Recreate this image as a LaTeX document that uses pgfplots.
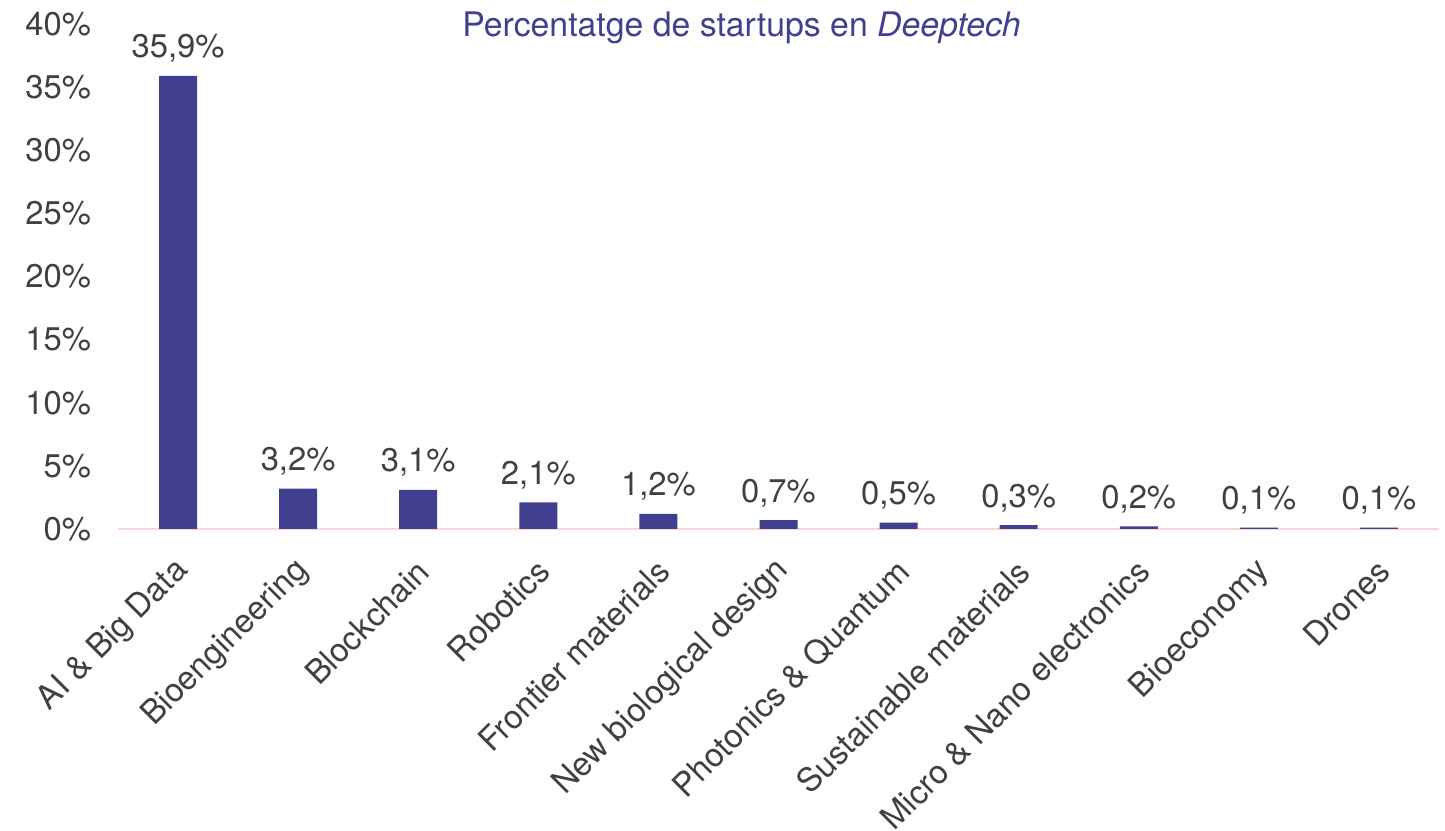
\documentclass[border=0pt]{standalone}
\usepackage{fontspec}
\setmainfont{TeX Gyre Heros}
\usepackage{pgfplots}
\pgfplotsset{compat=1.18}
\definecolor{barc}{HTML}{413F8F}
\definecolor{txt}{HTML}{404040}
\definecolor{axc}{HTML}{F7D5D8}
\begin{document}
\begin{tikzpicture}
\begin{axis}[
  scale only axis, width=660.5pt, height=252.5pt,
  xmin=-0.5, xmax=10.5, ymin=0, ymax=40,
  ytick={0,5,...,40},
  yticklabel={\pgfmathprintnumber{\tick}\%},
  xtick={0,...,10},
  xticklabels={AI \& Big Data, Bioengineering, Blockchain, Robotics, Frontier materials, New biological design, Photonics \& Quantum, Sustainable materials, Micro \& Nano electronics, Bioeconomy, Drones},
  axis x line*=bottom, axis y line*=left,
  y axis line style={draw=none},
  x axis line style={axc, line width=1pt},
  major tick length=0pt,
  tick label style={font=\fontsize{16.4}{19}\selectfont, text=txt},
  yticklabel style={xshift=-10pt},
  xticklabel style={xshift=5pt, yshift=-16pt, rotate=45, anchor=east},
  /pgf/number format/assume math mode=true,
  ybar, bar width=19pt,
  nodes near coords, point meta=explicit symbolic,
  nodes near coords style={font=\fontsize{16.4}{19}\selectfont, text=txt, yshift=3pt},
  clip=false,
]
\addplot[fill=barc, draw=none] coordinates {
 (0,35.9) [35,9\%]
 (1,3.2) [3,2\%]
 (2,3.1) [3,1\%]
 (3,2.1) [2,1\%]
 (4,1.2) [1,2\%]
 (5,0.7) [0,7\%]
 (6,0.5) [0,5\%]
 (7,0.3) [0,3\%]
 (8,0.2) [0,2\%]
 (9,0.1) [0,1\%]
 (10,0.1) [0,1\%]
};
\node[font=\fontsize{16.9}{19}\selectfont, text=barc] at (rel axis cs:0.472,0.992) {Percentatge de startups en \textit{Deeptech}};
\end{axis}
\pgfresetboundingbox
\path ([shift={(-59pt,-151pt)}]current axis.south west) rectangle ([shift={(3pt,12pt)}]current axis.north east);
\end{tikzpicture}
\end{document}
